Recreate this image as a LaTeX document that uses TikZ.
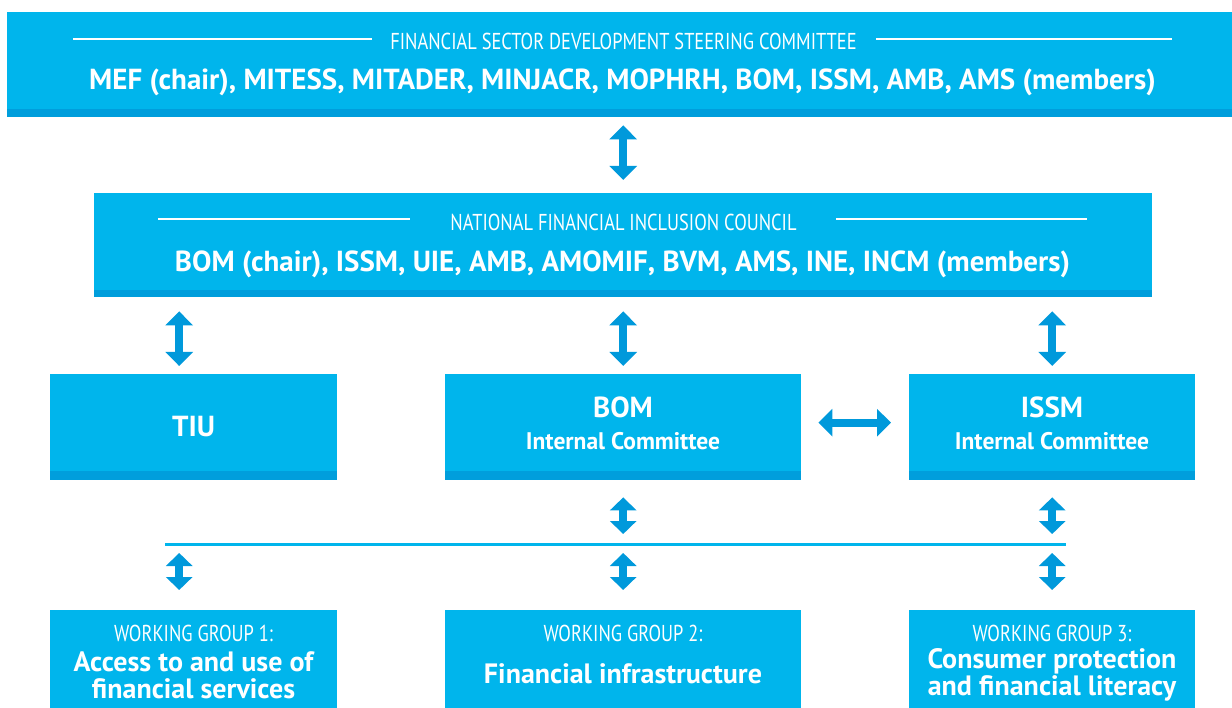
\documentclass[tikz,border=0pt]{standalone}
\usepackage{fontspec}
\setmainfont{PT Sans}
\newfontfamily\condfont[FakeStretch=0.80]{PT Sans}
\newfontfamily\semicond[FakeStretch=0.98]{PT Sans}
\usetikzlibrary{arrows.meta}

\definecolor{panelblue}{HTML}{00B5EC}
\definecolor{stripblue}{HTML}{009EDC}
\definecolor{arrowblue}{HTML}{0099DB}

\tikzset{
    panel/.style={fill=panelblue, inner sep=0pt, anchor=north west},
    strip/.style={fill=stripblue},
    headtext/.style={text=white, inner sep=0pt, font=\condfont\fontsize{23}{26}\selectfont},
    membertext/.style={text=white, inner sep=0pt, font=\bfseries\fontsize{29}{30}\selectfont},
    boxtext/.style={text=white, inner sep=0pt, align=center, font=\bfseries\fontsize{29}{30}\selectfont},
    grouptext/.style={text=white, inner sep=0pt, align=center, font=\bfseries\fontsize{28}{27}\selectfont},
    subtext/.style={text=white, inner sep=0pt, font=\semicond\bfseries\fontsize{24}{26}\selectfont},
    rule/.style={white, line width=2pt},
    bigarrow/.style={arrowblue, line width=8pt,
        {Triangle[width=27pt,length=14pt]}-{Triangle[width=27pt,length=14pt]}},
    smallarrow/.style={arrowblue, line width=8pt,
        {Triangle[width=26pt,length=13pt]}-{Triangle[width=26pt,length=13pt]}},
    bus/.style={panelblue, line width=3pt}
}

\begin{document}
\begin{tikzpicture}[x=1pt, y=-1pt]
    \useasboundingbox (0,0) rectangle (1232,708);

    % Steering committee
    \node[panel, minimum width=1225, minimum height=97] (steer) at (7,12) {};
    \fill[strip] (steer.south west) rectangle ([yshift=-8pt]steer.south east);
    \node[headtext] (steertitle) at (623.5,41) {FINANCIAL SECTOR DEVELOPMENT STEERING COMMITTEE};
    \draw[rule] (73,39) -- (372,39);
    \draw[rule] (876,39) -- (1172,39);
    \node[membertext] (steermembers) at (622.5,82) {MEF (chair), MITESS, MITADER, MINJACR, MOPHRH, BOM, ISSM, AMB, AMS (members)};

    % National council
    \node[panel, minimum width=1058, minimum height=97] (council) at (94,193) {};
    \fill[strip] (council.south west) rectangle ([yshift=-7pt]council.south east);
    \node[headtext] (counciltitle) at (623.5,222) {NATIONAL FINANCIAL INCLUSION COUNCIL};
    \draw[rule] (158,219) -- (410,219);
    \draw[rule] (836,219) -- (1087,219);
    \node[membertext] (councilmembers) at (622.5,264) {BOM (chair), ISSM, UIE, AMB, AMOMIF, BVM, AMS, INE, INCM (members)};

    % Middle row
    \node[panel, minimum width=287, minimum height=97] (tiu) at (50,374) {};
    \node[panel, minimum width=356, minimum height=97] (bom) at (445,374) {};
    \node[panel, minimum width=286, minimum height=97] (issm) at (909,374) {};
    \foreach \b in {tiu, bom, issm} {
        \fill[strip] (\b.south west) rectangle ([yshift=-9pt]\b.south east);
    }
    \node[boxtext] (tiulabel) at (193.5,427) {TIU};
    \node[boxtext] (bomlabel) at (623,407) {BOM};
    \node[subtext] (bomsub) at (623,441) {Internal Committee};
    \node[boxtext] (issmlabel) at (1052,407) {ISSM};
    \node[subtext] (issmsub) at (1052,441) {Internal Committee};

    % Working groups
    \node[panel, minimum width=287, minimum height=98] (wgone) at (50,610) {};
    \node[panel, minimum width=356, minimum height=98] (wgtwo) at (445,610) {};
    \node[panel, minimum width=286, minimum height=98] (wgthree) at (909,610) {};
    \node[headtext] (wgonehead) at (193.5,633) {WORKING GROUP 1:};
    \node[grouptext] (wgonetext) at (193.5,675) {Access to and use of\\financial services};
    \node[headtext] (wgtwohead) at (623,633) {WORKING GROUP 2:};
    \node[grouptext] (wgtwotext) at (623,674) {Financial infrastructure};
    \node[headtext] (wgthreehead) at (1052,633) {WORKING GROUP 3:};
    \node[grouptext] (wgthreetext) at (1052,675) {Consumer protection\\and financial literacy};

    % Arrows between levels
    \draw[bigarrow, shorten <=16pt, shorten >=13pt] (steer.south -| council.north) -- (council.north);
    \draw[bigarrow, shorten <=21pt, shorten >=8pt] ([xshift=-14.5pt]tiu.north |- council.south) -- ([xshift=-14.5pt]tiu.north);
    \draw[bigarrow, shorten <=21pt, shorten >=8pt] (bom.north |- council.south) -- (bom.north);
    \draw[bigarrow, shorten <=21pt, shorten >=8pt] (issm.north |- council.south) -- (issm.north);
    \draw[bigarrow, shorten <=17pt, shorten >=18pt] (bom.east) -- (issm.west);

    % Bus to the working groups
    \coordinate (busL) at (165,544);
    \coordinate (busR) at (1066,544);
    \draw[bus] (busL) -- (busR);
    \draw[smallarrow, shorten <=26pt, shorten >=10pt] (bom.south) -- (bom.south |- busL);
    \draw[smallarrow, shorten <=26pt, shorten >=10pt] (issm.south) -- (issm.south |- busL);
    \draw[smallarrow, shorten <=9pt, shorten >=20pt] ([xshift=-14.5pt]wgone.north |- busL) -- ([xshift=-14.5pt]wgone.north);
    \draw[smallarrow, shorten <=9pt, shorten >=20pt] (wgtwo.north |- busL) -- (wgtwo.north);
    \draw[smallarrow, shorten <=9pt, shorten >=20pt] (wgthree.north |- busL) -- (wgthree.north);
\end{tikzpicture}
\end{document}
